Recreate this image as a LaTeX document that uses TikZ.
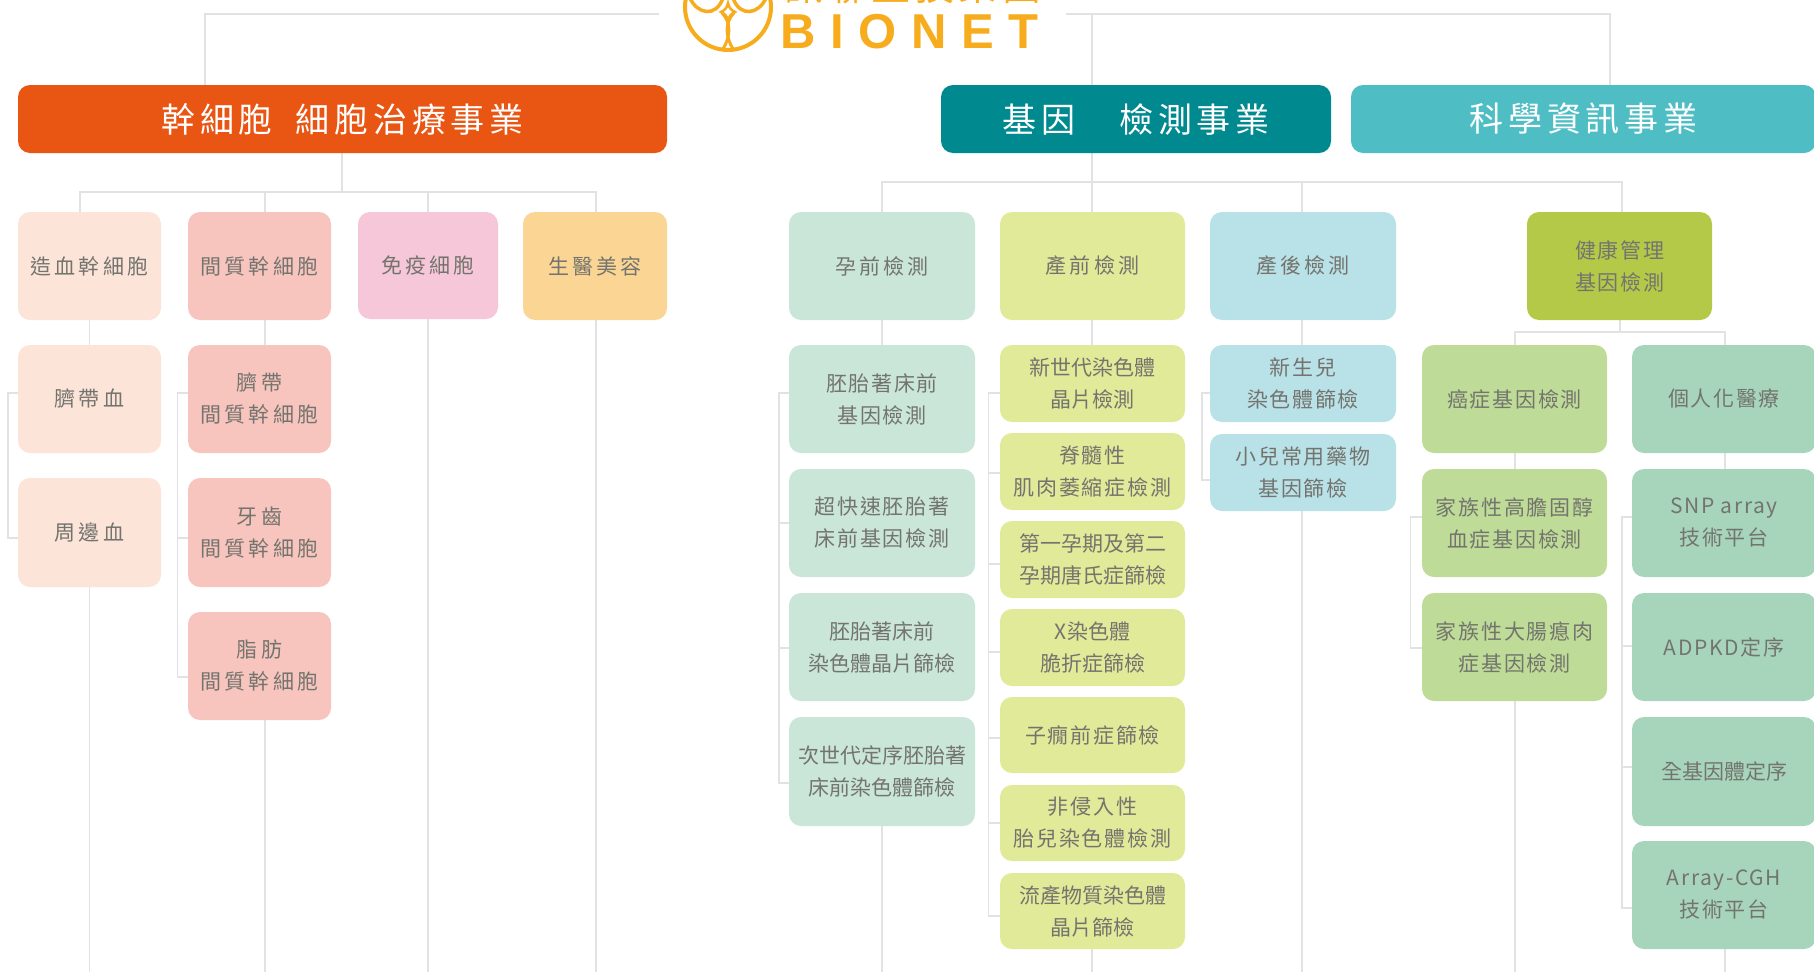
\documentclass[tikz,border=0pt]{standalone}
\usepackage{fontspec}
\usetikzlibrary{backgrounds}
\newfontfamily\cjkbody[LetterSpace=8]{Noto Sans CJK TC}
\newfontfamily\cjkwide[LetterSpace=15]{Noto Sans CJK TC}
\newfontfamily\cjktight[LetterSpace=0]{Noto Sans CJK TC}
\newfontfamily\cjkhead[LetterSpace=14]{Noto Sans CJK TC}
\newfontfamily\cjklogo[LetterSpace=12]{Noto Sans CJK TC}
\newfontfamily\bionetfont[LetterSpace=30]{Liberation Sans Bold}
\definecolor{cline}{HTML}{E2E2E2}
\definecolor{ctxt}{HTML}{74746E}
\definecolor{clogo}{HTML}{F7AC1E}
\definecolor{hOrange}{HTML}{E95513}
\definecolor{hTeal}{HTML}{008A90}
\definecolor{hCyan}{HTML}{4FBEC4}
\definecolor{fA}{HTML}{FCE4D8}
\definecolor{fB}{HTML}{F7C5BE}
\definecolor{fC}{HTML}{F6C7D9}
\definecolor{fD}{HTML}{FAD594}
\definecolor{fE}{HTML}{C9E6D9}
\definecolor{fF}{HTML}{E1EA98}
\definecolor{fG}{HTML}{B9E1E8}
\definecolor{fH}{HTML}{B4C947}
\definecolor{fI}{HTML}{BEDC97}
\definecolor{fJ}{HTML}{A6D5BB}
\tikzset{
  ln/.style={draw=cline,line width=1.8pt},
  bxbase/.style={rectangle,rounded corners=12pt,inner sep=0pt,align=center},
  head/.style={bxbase,text=white,font=\cjkhead\fontsize{34}{40}\selectfont},
  sub/.style={bxbase,text=ctxt,font=\cjkbody\fontsize{21}{32}\selectfont},
  subwide/.style={bxbase,text=ctxt,font=\cjkwide\fontsize{21}{32}\selectfont},
  subtight/.style={bxbase,text=ctxt,font=\cjktight\fontsize{21}{32}\selectfont},
  logoline/.style={draw=clogo,line width=4pt},
}
\newcommand{\bx}[7]{\node[#2,minimum width={(#5-#3)*1pt},minimum height={(#6-#4)*1pt}] (#1) at ({(#3+#5)/2},{(#4+#6)/2}) {#7};}
\begin{document}
\begin{tikzpicture}[x=1pt,y=-1pt]
\useasboundingbox (0,0) rectangle (1814,972);
\clip (0,0) rectangle (1814,972);
% headers
\bx{hOr}{head,fill=hOrange}{18}{85}{667}{153}{幹細胞\hspace{23pt}細胞治療事業}
\bx{hTe}{head,fill=hTeal}{941}{85}{1331}{153}{基因\hspace{44pt}檢測事業}
\bx{hCy}{head,fill=hCyan}{1351}{85}{1816}{153}{科學資訊事業}
% left family
\bx{a0}{subwide,fill=fA}{18}{212}{161}{320}{造血幹細胞}
\bx{a1}{subwide,fill=fA}{18}{345}{161}{453}{臍帶血}
\bx{a2}{subwide,fill=fA}{18}{478}{161}{587}{周邊血}
\bx{b0}{subwide,fill=fB}{188}{212}{331}{320}{間質幹細胞}
\bx{b1}{subwide,fill=fB}{188}{345}{331}{453}{臍帶\\間質幹細胞}
\bx{b2}{subwide,fill=fB}{188}{478}{331}{587}{牙齒\\間質幹細胞}
\bx{b3}{subwide,fill=fB}{188}{612}{331}{720}{脂肪\\間質幹細胞}
\bx{c0}{subwide,fill=fC}{358}{212}{498}{319}{免疫細胞}
\bx{d0}{subwide,fill=fD}{523}{212}{667}{320}{生醫美容}
% gene testing
\bx{e0}{subwide,fill=fE}{789}{212}{975}{320}{孕前檢測}
\bx{e1}{sub,fill=fE}{789}{345}{975}{453}{胚胎著床前\\基因檢測}
\bx{e2}{sub,fill=fE}{789}{469}{975}{577}{超快速胚胎著\\床前基因檢測}
\bx{e3}{subtight,fill=fE}{789}{593}{975}{701}{胚胎著床前\\染色體晶片篩檢}
\bx{e4}{subtight,fill=fE}{789}{717}{975}{826}{次世代定序胚胎著\\床前染色體篩檢}
\bx{f0}{subwide,fill=fF}{1000}{212}{1185}{320}{產前檢測}
\bx{f1}{subtight,fill=fF}{1000}{345}{1185}{422}{新世代染色體\\晶片檢測}
\bx{f2}{sub,fill=fF}{1000}{433}{1185}{510}{脊髓性\\肌肉萎縮症檢測}
\bx{f3}{subtight,fill=fF}{1000}{521}{1185}{598}{第一孕期及第二\\孕期唐氏症篩檢}
\bx{f4}{subtight,fill=fF}{1000}{609}{1185}{686}{X染色體\\脆折症篩檢}
\bx{f5}{sub,fill=fF}{1000}{697}{1185}{773}{子癇前症篩檢}
\bx{f6}{sub,fill=fF}{1000}{785}{1185}{861}{非侵入性\\胎兒染色體檢測}
\bx{f7}{subtight,fill=fF}{1000}{873}{1185}{949}{流產物質染色體\\晶片篩檢}
\bx{g0}{subwide,fill=fG}{1210}{212}{1396}{320}{產後檢測}
\bx{g1}{sub,fill=fG}{1210}{345}{1396}{422}{新生兒\\染色體篩檢}
\bx{g2}{sub,fill=fG}{1210}{434}{1396}{511}{小兒常用藥物\\基因篩檢}
\bx{h0}{sub,fill=fH}{1527}{212}{1712}{320}{健康管理\\基因檢測}
\bx{i1}{sub,fill=fI}{1422}{345}{1607}{453}{癌症基因檢測}
\bx{i2}{sub,fill=fI}{1422}{469}{1607}{577}{家族性高膽固醇\\血症基因檢測}
\bx{i3}{sub,fill=fI}{1422}{593}{1607}{701}{家族性大腸瘜肉\\症基因檢測}
\bx{j1}{sub,fill=fJ}{1632}{345}{1816}{453}{個人化醫療}
\bx{j2}{sub,fill=fJ}{1632}{469}{1816}{577}{SNP array\\技術平台}
\bx{j3}{sub,fill=fJ}{1632}{593}{1816}{701}{ADPKD定序}
\bx{j4}{subtight,fill=fJ}{1632}{717}{1816}{826}{全基因體定序}
\bx{j5}{sub,fill=fJ}{1632}{841}{1816}{949}{Array-CGH\\技術平台}
% logo
\node[text=clogo,inner sep=0pt,anchor=base,font=\cjklogo\fontsize{39}{39}\selectfont] (logocn) at (913,0) {訊聯生技集團};
\node[text=clogo,inner sep=0pt,anchor=base west,font=\bionetfont\fontsize{49}{49}\selectfont] (logoen) at (780,48) {BIONET};
\draw[logoline] (728,7) circle (43);
\draw[logoline,line width=3.5pt] (690,-2) .. controls (697,14) and (716,18) .. (723,-2);
\draw[logoline,line width=3.5pt] (766,-2) .. controls (759,14) and (740,18) .. (733,-2);
\draw[logoline,line width=2.5pt] (728,3) .. controls (729,8) and (731,10) .. (735,12) .. controls (731,14) and (729,16) .. (728,21) .. controls (727,16) and (725,14) .. (721,12) .. controls (725,10) and (727,8) .. (728,3) -- cycle;
\draw[logoline,line width=3pt] (722,13) .. controls (731,22) and (731,36) .. (723,49);
\draw[logoline,line width=3pt] (734,13) .. controls (725,22) and (725,36) .. (733,49);
\begin{scope}[on background layer]
\fill[white] (0,0) rectangle (1814,972);
\coordinate (bot) at (0,972);
\coordinate (t0) at (205,14); \coordinate (tl) at (659,14);
\coordinate (t1) at (1066,14); \coordinate (t2) at (1092,14); \coordinate (t3) at (1610,14);
\draw[ln] (tl) -- (t0) -- (t0 |- hOr.north);
\draw[ln] (t1) -- (t3) -- (t3 |- hCy.north);
\draw[ln] (t2) -- (t2 |- f0.north);
% orange tree
\coordinate (p0) at (80,192); \coordinate (p1) at (265,192); \coordinate (p2) at (428,192); \coordinate (p3) at (596,192); \coordinate (p4) at (342,192);
\draw[ln] (p4 |- hOr.south) -- (p4);
\draw[ln] (p0 |- a0.north) -- (p0) -- (p3) -- (p3 |- d0.north);
\draw[ln] (p1) -- (p1 |- b0.north);
\draw[ln] (p2) -- (p2 |- c0.north);
\draw[ln] (a0.south) -- (a1.north);
\draw[ln] (a2.south) -- (a2.south |- bot);
\draw[ln] (p1 |- b0.south) -- (p1 |- b1.north);
\draw[ln] (p1 |- b3.south) -- (p1 |- bot);
\draw[ln] (p2 |- c0.south) -- (p2 |- bot);
\draw[ln] (p3 |- d0.south) -- (p3 |- bot);
\coordinate (q0) at (8,393); \coordinate (q1) at (8,538);
\draw[ln] (q0 -| a1.west) -- (q0) -- (q1) -- (q1 -| a2.west);
\coordinate (q2) at (177.5,393); \coordinate (q3) at (177.5,538); \coordinate (q4) at (177.5,677);
\draw[ln] (q2 -| b1.west) -- (q2) -- (q4) -- (q4 -| b3.west);
\draw[ln] (q3) -- (q3 -| b2.west);
% teal tree
\coordinate (r0) at (882,182); \coordinate (r1) at (1092,182); \coordinate (r2) at (1302,182); \coordinate (r3) at (1622,182);
\draw[ln] (r0 |- e0.north) -- (r0) -- (r3) -- (r3 |- h0.north);
\draw[ln] (r2) -- (r2 |- g0.north);
\draw[ln] (r0 |- e0.south) -- (r0 |- e1.north);
\draw[ln] (r0 |- e4.south) -- (r0 |- bot);
\draw[ln] (r1 |- f0.south) -- (r1 |- f1.north);
\draw[ln] (r1 |- f7.south) -- (r1 |- bot);
\draw[ln] (r2 |- g0.south) -- (r2 |- g1.north);
\draw[ln] (r2 |- g2.south) -- (r2 |- bot);
\coordinate (s0) at (779,393); \coordinate (s1) at (779,523); \coordinate (s2) at (779,648); \coordinate (s3) at (779,783);
\draw[ln] (s0 -| e1.west) -- (s0) -- (s3) -- (s3 -| e4.west);
\draw[ln] (s1) -- (s1 -| e2.west);
\draw[ln] (s2) -- (s2 -| e3.west);
\coordinate (u0) at (988.5,393); \coordinate (u1) at (988.5,473); \coordinate (u2) at (988.5,564); \coordinate (u3) at (988.5,652); \coordinate (u4) at (988.5,738); \coordinate (u5) at (988.5,823); \coordinate (u6) at (988.5,916);
\draw[ln] (u0 -| f1.west) -- (u0) -- (u6) -- (u6 -| f7.west);
\draw[ln] (u1) -- (u1 -| f2.west);
\draw[ln] (u2) -- (u2 -| f3.west);
\draw[ln] (u3) -- (u3 -| f4.west);
\draw[ln] (u4) -- (u4 -| f5.west);
\draw[ln] (u5) -- (u5 -| f6.west);
\coordinate (v0) at (1202,393); \coordinate (v1) at (1202,480);
\draw[ln] (v0 -| g1.west) -- (v0) -- (v1) -- (v1 -| g2.west);
% health tree
\coordinate (w0) at (1620,332); \coordinate (w1) at (1515,332); \coordinate (w2) at (1725,332);
\draw[ln] (w0 |- h0.south) -- (w0);
\draw[ln] (w1 |- i1.north) -- (w1) -- (w2) -- (w2 |- j1.north);
\draw[ln] (w1 |- i1.south) -- (w1 |- i2.north);
\draw[ln] (w1 |- i3.south) -- (w1 |- bot);
\draw[ln] (w2 |- j1.south) -- (w2 |- j2.north);
\draw[ln] (w2 |- j5.south) -- (w2 |- bot);
\coordinate (y0) at (1410.5,517); \coordinate (y1) at (1410.5,648);
\draw[ln] (y0 -| i2.west) -- (y0) -- (y1) -- (y1 -| i3.west);
\coordinate (z0) at (1622,517); \coordinate (z1) at (1622,646); \coordinate (z2) at (1622,767); \coordinate (z3) at (1622,908);
\draw[ln] (z0 -| j2.west) -- (z0) -- (z3) -- (z3 -| j5.west);
\draw[ln] (z1) -- (z1 -| j3.west);
\draw[ln] (z2) -- (z2 -| j4.west);
\end{scope}
\end{tikzpicture}
\end{document}
